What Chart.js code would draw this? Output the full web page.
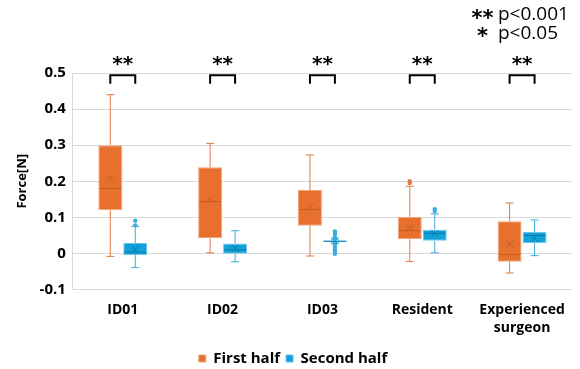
<!DOCTYPE html>
<html>
<head>
<meta charset="utf-8">
<script src="https://cdn.jsdelivr.net/npm/chart.js@4/dist/chart.umd.min.js"></script>
<style>
  html, body { margin: 0; padding: 0; background: #fff; }
  #wrap { width: 580px; height: 369px; position: relative; }
</style>
</head>
<body>
<div id="wrap"><canvas id="chart"></canvas></div>
<script>
// categories and tick labels
const categories = ['ID01', 'ID02', 'ID03', 'Resident', ['Experienced', 'surgeon']];
const yTicks = [0.5, 0.4, 0.3, 0.2, 0.1, 0, -0.1];
const sigMarks = ['**', '**', '**', '**', '**'];

// First half (box plot stats per category)
const firstMin = [-0.008, 0.002, -0.007, -0.022, -0.054];
const firstQ1 = [0.120, 0.043, 0.077, 0.040, -0.023];
const firstMedian = [0.180, 0.144, 0.122, 0.063, -0.003];
const firstQ3 = [0.300, 0.239, 0.176, 0.101, 0.089];
const firstMax = [0.440, 0.305, 0.273, 0.186, 0.140];
const firstMean = [0.209, 0.150, 0.130, 0.072, 0.025];
const firstOutliers = [[], [], [], [0.195, 0.200], []];

// Second half
const secondMin = [-0.039, -0.023, 0.029, 0.002, -0.006];
const secondQ1 = [-0.004, -0.001, 0.031, 0.035, 0.029];
const secondMedian = [0.004, 0.010, 0.034, 0.056, 0.050];
const secondQ3 = [0.029, 0.028, 0.036, 0.066, 0.060];
const secondMax = [0.075, 0.063, 0.038, 0.110, 0.093];
const secondMean = [0.011, 0.014, 0.035, 0.056, 0.042];
const secondOutliers = [[0.078, 0.091], [], [0.061, 0.054, 0.046, 0.040, 0.026, 0.019, 0.012, 0.006, -0.001], [0.118, 0.123], []];

const series = [
  { min: firstMin, median: firstMedian, max: firstMax, mean: firstMean, outliers: firstOutliers,
    whisker: '#E27A45', mid: '#C65A22' },
  { min: secondMin, median: secondMedian, max: secondMax, mean: secondMean, outliers: secondOutliers,
    whisker: '#3CADDB', mid: '#0A7DB0' }
];

const FONT = '"Open Sans", "Noto Sans", sans-serif';

// whiskers, medians, means, outliers and the significance brackets
const boxExtras = {
  id: 'boxExtras',
  afterDatasetsDraw(chart) {
    const ctx = chart.ctx;
    const y = chart.scales.y;
    ctx.save();
    series.forEach((s, di) => {
      const meta = chart.getDatasetMeta(di);
      meta.data.forEach((bar, i) => {
        const cx = bar.x;
        const half = bar.width / 2;
        const raw = chart.data.datasets[di].data[i];
        const cap = 4;
        ctx.strokeStyle = s.whisker;
        ctx.lineWidth = 1;
        ctx.beginPath();
        ctx.moveTo(cx, y.getPixelForValue(raw[1]));
        ctx.lineTo(cx, y.getPixelForValue(s.max[i]));
        ctx.moveTo(cx - cap, y.getPixelForValue(s.max[i]));
        ctx.lineTo(cx + cap, y.getPixelForValue(s.max[i]));
        ctx.moveTo(cx, y.getPixelForValue(raw[0]));
        ctx.lineTo(cx, y.getPixelForValue(s.min[i]));
        ctx.moveTo(cx - cap, y.getPixelForValue(s.min[i]));
        ctx.lineTo(cx + cap, y.getPixelForValue(s.min[i]));
        ctx.stroke();

        // median
        ctx.strokeStyle = s.mid;
        ctx.beginPath();
        const my = y.getPixelForValue(s.median[i]);
        ctx.moveTo(cx - half + 1, my);
        ctx.lineTo(cx + half - 1, my);
        ctx.stroke();

        // mean marker
        const ey = y.getPixelForValue(s.mean[i]);
        const r = 3.5;
        ctx.beginPath();
        ctx.moveTo(cx - r, ey - r); ctx.lineTo(cx + r, ey + r);
        ctx.moveTo(cx + r, ey - r); ctx.lineTo(cx - r, ey + r);
        ctx.stroke();

        // outliers
        ctx.fillStyle = s.whisker;
        s.outliers[i].forEach(v => {
          ctx.beginPath();
          ctx.arc(cx, y.getPixelForValue(v), 2.2, 0, Math.PI * 2);
          ctx.fill();
        });
      });
    });

    // significance brackets
    const m0 = chart.getDatasetMeta(0).data;
    const m1 = chart.getDatasetMeta(1).data;
    ctx.strokeStyle = '#000';
    ctx.lineWidth = 2;
    ctx.fillStyle = '#000';
    ctx.font = 'bold 20px "DejaVu Sans", sans-serif';
    ctx.textAlign = 'center';
    ctx.textBaseline = 'middle';
    sigMarks.forEach((mark, i) => {
      const x0 = m0[i].x, x1 = m1[i].x;
      const top = y.getPixelForValue(0.494);
      const leg = y.getPixelForValue(0.47);
      ctx.beginPath();
      ctx.moveTo(x0, leg); ctx.lineTo(x0, top); ctx.lineTo(x1, top); ctx.lineTo(x1, leg);
      ctx.stroke();
      ctx.fillText(mark, (x0 + x1) / 2, top - 10);
    });

    // p-value key
    ctx.font = 'bold 21px "DejaVu Sans", sans-serif';
    ctx.fillText('**', 482.5, 20);
    ctx.fillText('*', 482.5, 38);
    ctx.textAlign = 'left';
    ctx.font = '500 19px ' + FONT;
    ctx.fillText('p<0.001', 498, 15);
    ctx.fillText('p<0.05', 498, 34);
    ctx.restore();
  }
};

new Chart(document.getElementById('chart'), {
  type: 'bar',
  data: {
    labels: categories,
    datasets: [{
      label: 'First half',
      data: firstQ1.map((v, i) => [v, firstQ3[i]]),
      backgroundColor: '#E8702F',
      borderColor: '#F0A47A',
      borderWidth: 1,
      borderSkipped: false,
      categoryPercentage: 0.5,
      barPercentage: 0.96
    }, {
      label: 'Second half',
      data: secondQ1.map((v, i) => [v, secondQ3[i]]),
      backgroundColor: '#11A0D8',
      borderColor: '#6CC4E8',
      borderWidth: 1,
      borderSkipped: false,
      categoryPercentage: 0.5,
      barPercentage: 0.96
    }]
  },
  options: {
    responsive: true,
    maintainAspectRatio: false,
    animation: false,
    layout: { padding: { top: 73, right: 8, left: 14, bottom: -7 } },
    plugins: {
      tooltip: { enabled: false },
      legend: {
        position: 'bottom',
        labels: {
          boxWidth: 7,
          boxHeight: 7,
          padding: 6,
          color: '#000',
          font: { family: FONT, size: 15, weight: 'bold' }
        }
      }
    },
    scales: {
      x: {
        grid: { display: false },
        border: { display: false },
        afterFit(axis) { axis.height += 5; },
        ticks: {
          color: '#000',
          padding: 3,
          maxRotation: 0,
          font: { family: FONT, size: 14, weight: 'bold', lineHeight: 1.3 }
        }
      },
      y: {
        min: -0.1,
        max: 0.5,
        afterBuildTicks(axis) { axis.ticks = yTicks.map(v => ({ value: v })); },
        grid: { color: '#D9D9D9', lineWidth: 1, drawTicks: false },
        border: { display: true, color: '#D9D9D9' },
        ticks: {
          color: '#000',
          padding: 7,
          font: { family: FONT, size: 15, weight: 'bold' },
          callback: v => (v === 0 ? '0' : v.toFixed(1))
        },
        title: {
          display: true,
          text: 'Force[N]',
          color: '#000',
          padding: { top: 0, bottom: 3 },
          font: { family: FONT, size: 13, weight: 'bold' }
        }
      }
    }
  },
  plugins: [boxExtras]
});
</script>
</body>
</html>
